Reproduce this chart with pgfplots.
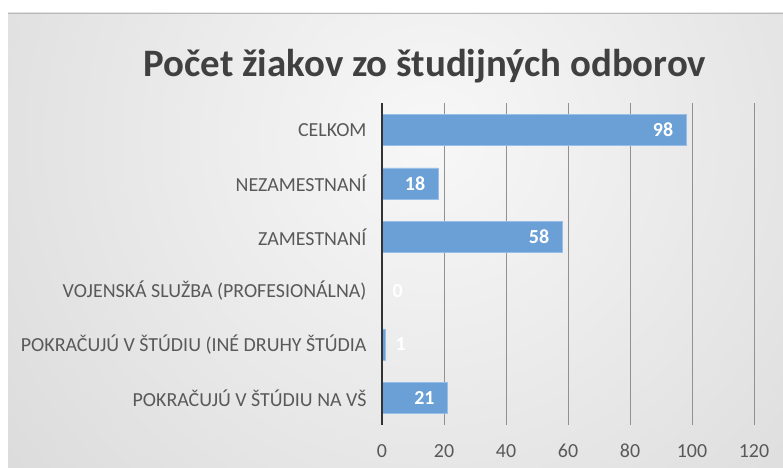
\documentclass[border=0pt]{standalone}
\usepackage{pgfplots}
\pgfplotsset{compat=1.18}
\usepackage{fontspec}
\setmainfont{Carlito}
\definecolor{barblue}{RGB}{106,160,214}
\definecolor{baredge}{RGB}{150,190,230}
\definecolor{txtgray}{RGB}{89,89,89}
\definecolor{gridgray}{RGB}{145,145,145}
\begin{document}
\begin{tikzpicture}[x=1bp,y=1bp]
\useasboundingbox (0,0) rectangle (783,468);
\fill[white] (0,0) rectangle (783,468);
\begin{scope}
\clip (8,0) rectangle (783,455);
\shade[inner color=white!97!black, outer color=white!76!black] (430,330) circle (1040);
\end{scope}
\draw[white!72!black, line width=0.8bp] (8,455) -- (783,455);
\node[font=\fontsize{39}{46}\selectfont\bfseries, text=black!75, anchor=base] at (425,391) {Počet žiakov zo študijných odborov};
\begin{axis}[
  at={(382bp,43bp)}, anchor=south west,
  scale only axis, width=372bp, height=322bp,
  xmin=0, xmax=120, ymin=-0.5, ymax=5.5,
  xtick={0,20,...,120},
  ytick={0,1,2,3,4,5},
  yticklabels={POKRAČUJÚ V ŠTÚDIU NA VŠ, POKRAČUJÚ V ŠTÚDIU (INÉ DRUHY ŠTÚDIA, VOJENSKÁ SLUŽBA (PROFESIONÁLNA), ZAMESTNANÍ, NEZAMESTNANÍ, CELKOM},
  axis line style={draw=none},
  major tick length=0pt,
  xmajorgrids, grid style={gridgray, line width=1bp},
  tick label style={text=txtgray},
  yticklabel style={font=\fontsize{20}{23}\selectfont, xshift=-12bp},
  xticklabel style={font=\fontsize{20}{23}\selectfont, anchor=base, yshift=-33bp},
  /pgf/number format/assume math mode=true,
  clip=false,
  bar shift=0pt, bar width=31bp,
]
\addplot[xbar, fill=barblue, draw=baredge, line width=0.6bp,
  nodes near coords,
  every node near coord/.append style={anchor=east, xshift=-9bp, text=white, font=\fontsize{20}{23}\selectfont\bfseries}]
  coordinates {(21,0) (58,3) (18,4) (98,5)};
\addplot[xbar, fill=barblue, draw=baredge, line width=0.6bp,
  nodes near coords,
  every node near coord/.append style={anchor=west, xshift=7bp, text=white, font=\fontsize{20}{23}\selectfont\bfseries}]
  coordinates {(1,1) (0,2)};
\draw[black!80, line width=1.6bp] (axis cs:0,-0.5) -- (axis cs:0,5.5);
\end{axis}
\end{tikzpicture}
\end{document}
